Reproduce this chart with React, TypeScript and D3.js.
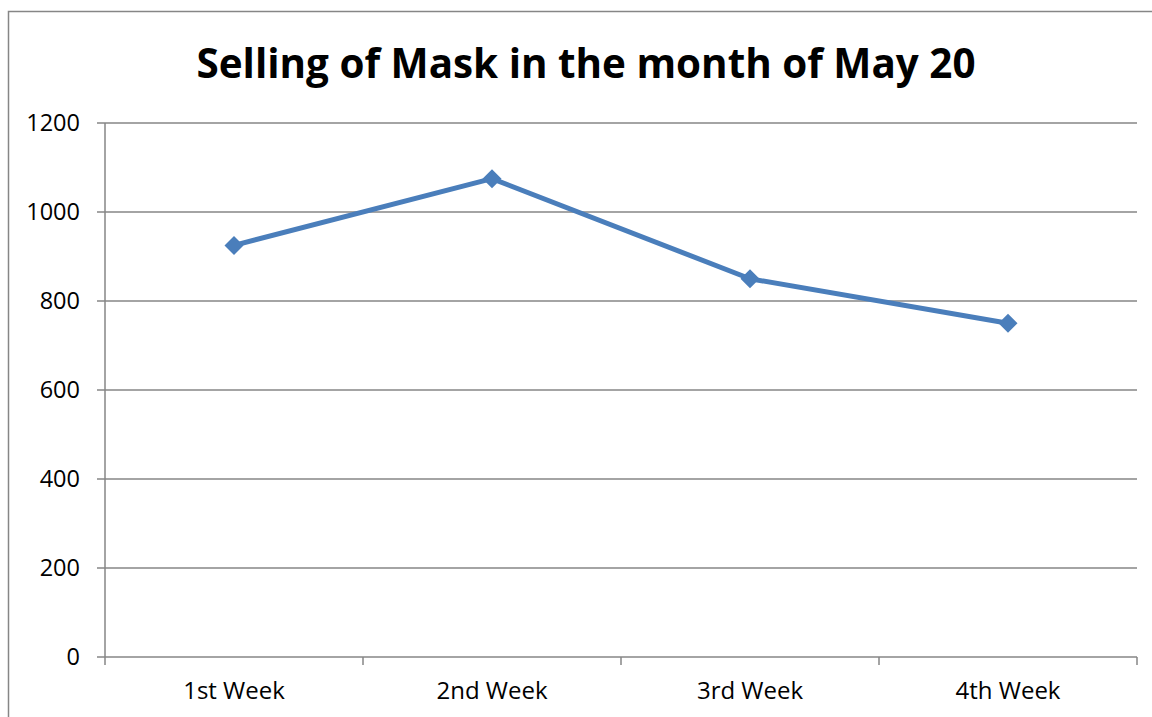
import React from "react";
import * as d3 from "d3";

const categories = ["1st Week", "2nd Week", "3rd Week", "4th Week"];
const sales = [925, 1075, 850, 750];
const yTicks = [0, 200, 400, 600, 800, 1000, 1200];
const title = "Selling of Mask in the month of May 20";

export default function App() {
  const W = 1152, H = 717;
  const left = 105, right = 1137, top = 123, bottom = 657;
  const x = d3.scaleBand().domain(categories).range([left, right]);
  const y = d3.scaleLinear().domain([0, 1200]).range([bottom, top]);
  const line = d3.line<number>()
    .x((_, i) => x(categories[i])! + x.bandwidth() / 2)
    .y((d) => y(d));
  const font = "'Open Sans', sans-serif";
  const grid = "#868686";
  const boundaries = [...categories.map((c) => x(c)!), right];
  return (
    <svg width={W} height={H} style={{ position: "absolute", left: 0, top: 0 }}>
      <rect x={0} y={0} width={W} height={H} fill="#fff" />
      <path d={`M8.5,${H} V11.5 H${W}`} fill="none" stroke={grid} strokeWidth={1.5} />
      {yTicks.map((t) => (
        <g key={t}>
          <line x1={left - 8} x2={right} y1={y(t)} y2={y(t)} stroke={grid} strokeWidth={1.5} />
          <text x={left - 25} y={y(t)} dy="0.36em" textAnchor="end" fontFamily={font} fontSize={23.5} fill="#000">{t}</text>
        </g>
      ))}
      <line x1={left} x2={left} y1={top} y2={bottom} stroke={grid} strokeWidth={1.5} />
      {boundaries.map((b, i) => (
        <line key={i} x1={b} x2={b} y1={bottom} y2={bottom + 8} stroke={grid} strokeWidth={1.5} />
      ))}
      {categories.map((c) => (
        <text key={c} x={x(c)! + x.bandwidth() / 2} y={699} textAnchor="middle" fontFamily={font} fontSize={24} fill="#000">{c}</text>
      ))}
      <path d={line(sales)!} fill="none" stroke="#4a7ebb" strokeWidth={5} strokeLinejoin="round" />
      {sales.map((v, i) => {
        const cx = x(categories[i])! + x.bandwidth() / 2, cy = y(v);
        const s = 9.5;
        return <path key={i} d={`M${cx},${cy - s}L${cx + s},${cy}L${cx},${cy + s}L${cx - s},${cy}Z`} fill="#4a7ebb" />;
      })}
      <text x={586} y={78} textAnchor="middle" fontFamily={font} fontWeight="bold" fontSize={40.4} fill="#000">{title}</text>
    </svg>
  );
}
